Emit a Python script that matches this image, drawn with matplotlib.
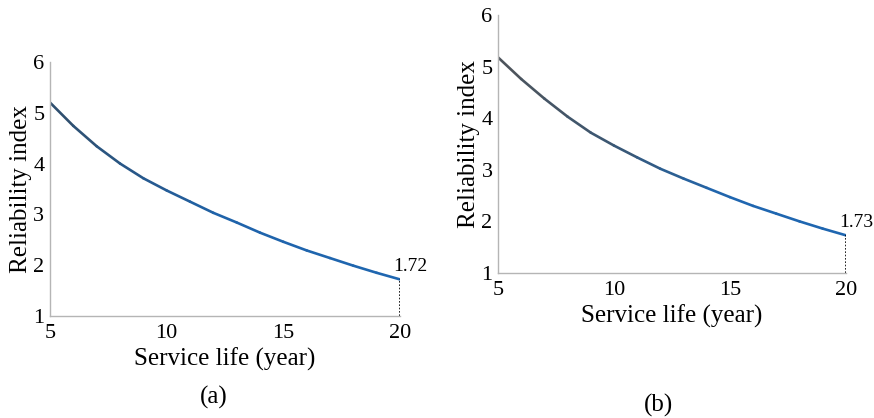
import matplotlib
matplotlib.use("Agg")
import matplotlib.pyplot as plt
import numpy as np
from matplotlib.collections import LineCollection
from matplotlib.colors import LinearSegmentedColormap

plt.rcParams['font.family'] = ['Liberation Serif', 'DejaVu Serif']

years = [5, 6, 7, 8, 9, 10, 11, 12, 13, 14, 15, 16, 17, 18, 19, 20]
beta_a = [5.20, 4.74, 4.34, 4.00, 3.71, 3.47, 3.25, 3.03, 2.84, 2.64, 2.46, 2.29, 2.14, 1.99, 1.85, 1.72]
beta_b = [5.18, 4.76, 4.38, 4.03, 3.72, 3.47, 3.24, 3.02, 2.83, 2.65, 2.47, 2.30, 2.15, 2.00, 1.86, 1.73]
xticks = [5, 10, 15, 20]
yticks = [1, 2, 3, 4, 5, 6]
panel_tags = ["(a)", "(b)"]

fig = plt.figure(figsize=(8.74, 4.18), dpi=100)
ax_a = fig.add_axes([0.0572, 0.244, 0.4005, 0.608])
ax_b = fig.add_axes([0.5698, 0.347, 0.398, 0.617])

spine_color = "#b5b5b5"
cmap_a = LinearSegmentedColormap.from_list("ca", ["#2f4f6f", "#1f63aa", "#1f66b0"])
cmap_b = LinearSegmentedColormap.from_list("cb", ["#4d545c", "#3a5774", "#1f66b0", "#1f66b0"])

panels = [(ax_a, beta_a, panel_tags[0], (0.244, 0.05), cmap_a),
          (ax_b, beta_b, panel_tags[1], (0.754, 0.03), cmap_b)]

for ax, beta, tag, tag_pos, cmap in panels:
    pts = np.column_stack([years, beta])
    segs = np.stack([pts[:-1], pts[1:]], axis=1)
    lc = LineCollection(segs, colors=cmap(np.linspace(0, 1, len(segs))),
                        linewidths=1.9, capstyle='round', joinstyle='round')
    ax.add_collection(lc)
    end_x, end_y = years[-1], beta[-1]
    ax.plot([end_x, end_x], [yticks[0], end_y], color="black", lw=1.2, ls=(0, (1, 1)))
    ax.annotate(f"{end_y:.2f}", xy=(end_x, end_y), xytext=(-5, 3),
                textcoords="offset points", fontsize=14, ha="left", va="bottom")
    ax.set_xlim(xticks[0], xticks[-1])
    ax.set_ylim(yticks[0], yticks[-1])
    ax.set_xticks(xticks)
    ax.set_yticks(yticks)
    ax.tick_params(length=0, labelsize=16)
    ax.tick_params(axis='x', pad=6)
    ax.tick_params(axis='y', pad=4)
    for s in ("top", "right"):
        ax.spines[s].set_visible(False)
    for s in ("left", "bottom"):
        ax.spines[s].set_color(spine_color)
        ax.spines[s].set_linewidth(1.0)
    ax.set_xlabel("Service life (year)", fontsize=18, labelpad=3)
    ax.set_ylabel("Reliability index", fontsize=18, labelpad=1)
    ax.patch.set_alpha(0)
    fig.text(tag_pos[0], tag_pos[1], tag, fontsize=18, ha="center", va="center")

fig.savefig("out.png", dpi=100, facecolor="white")
